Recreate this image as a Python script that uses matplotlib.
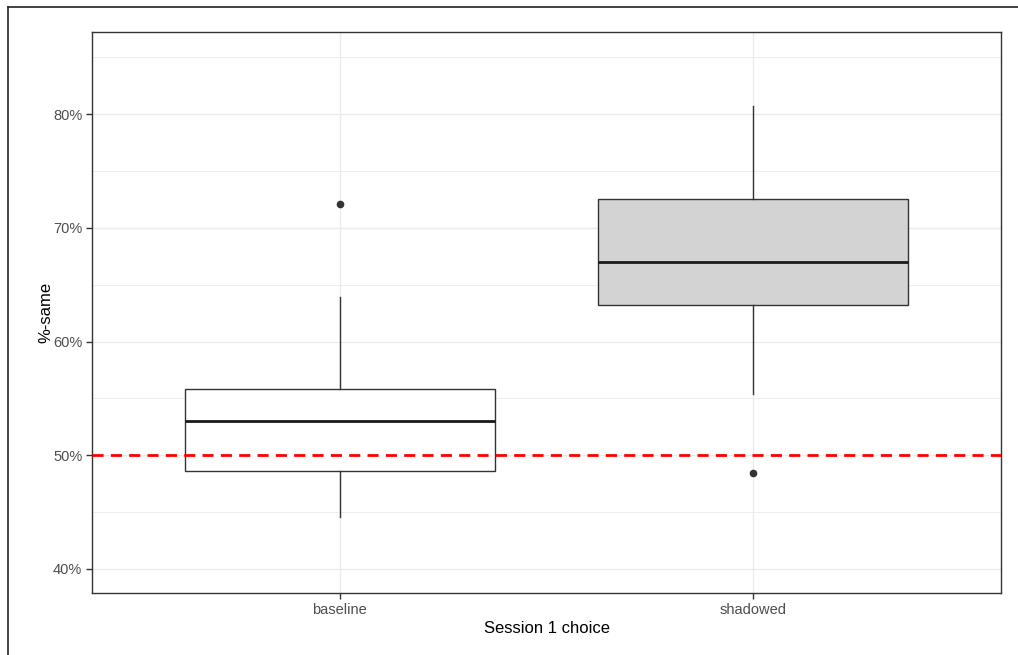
import matplotlib
matplotlib.use("Agg")
import matplotlib.pyplot as plt
from matplotlib.lines import Line2D
from matplotlib.ticker import FixedLocator, FuncFormatter

plt.rcParams['font.family'] = ['Liberation Sans', 'DejaVu Sans']

# summary stats for %-same by session 1 choice (percent)
groups = ['baseline', 'shadowed']
whisker_lo = [44.6, 55.4]
q1 = [48.6, 63.2]
median = [53.0, 67.0]
q3 = [55.8, 72.5]
whisker_hi = [63.9, 80.7]
outliers = [[72.1], [48.4]]
box_fill = ['white', '#d3d3d3']
chance_level = 50

stats = []
for i, g in enumerate(groups):
    stats.append({
        'label': g,
        'whislo': whisker_lo[i], 'q1': q1[i], 'med': median[i],
        'q3': q3[i], 'whishi': whisker_hi[i], 'fliers': outliers[i],
    })

fig = plt.figure(figsize=(10.18, 6.55), dpi=100)
W, H = 1018, 655
ax = fig.add_axes([92 / W, 1 - 593.3 / H, (1001 - 92) / W, (593.3 - 31.7) / H])

dark = '#333333'
bp = ax.bxp(stats, positions=[1, 2], widths=0.75, patch_artist=True,
            showcaps=False,
            boxprops=dict(edgecolor=dark, linewidth=1.0),
            medianprops=dict(color='#1a1a1a', linewidth=2.0),
            whiskerprops=dict(color=dark, linewidth=1.0),
            flierprops=dict(marker='o', markerfacecolor=dark, markeredgecolor=dark,
                            markersize=4.5, linestyle='none'),
            zorder=3)
for patch, c in zip(bp['boxes'], box_fill):
    patch.set_facecolor(c)

ax.axhline(chance_level, color='red', linestyle=(0, (4, 2.6)), linewidth=2.0, zorder=4)

ax.set_xlim(0.4, 2.6)
ax.set_ylim(37.86, 87.24)
ax.set_xticks([1, 2])
ax.set_xticklabels(groups)
ax.yaxis.set_major_locator(FixedLocator([40, 50, 60, 70, 80]))
ax.yaxis.set_minor_locator(FixedLocator([45, 55, 65, 75, 85]))
ax.yaxis.set_major_formatter(FuncFormatter(lambda v, p: f'{v:.0f}%'))

ax.grid(True, which='major', color='#ebebeb', linewidth=1.0, zorder=0)
ax.grid(True, which='minor', axis='y', color='#ebebeb', linewidth=0.6, zorder=0)
ax.set_axisbelow(True)

ax.tick_params(axis='both', which='major', length=4, width=1, color=dark,
               labelcolor='#4d4d4d', labelsize=10.5, pad=3)
ax.tick_params(axis='y', which='minor', length=0)
for s in ax.spines.values():
    s.set_color(dark)
    s.set_linewidth(1.0)

ax.set_xlabel('Session 1 choice', fontsize=12, labelpad=3)
ax.set_ylabel('%-same', fontsize=12, labelpad=0)

# frame around the figure (top and left edges)
fig.add_artist(Line2D([8 / W, 1], [1 - 7.3 / H, 1 - 7.3 / H], color='#222222',
                      linewidth=1.2, transform=fig.transFigure))
fig.add_artist(Line2D([8.3 / W, 8.3 / W], [0, 1 - 7.3 / H], color='#222222',
                      linewidth=1.2, transform=fig.transFigure))

fig.savefig('out.png', dpi=100)
